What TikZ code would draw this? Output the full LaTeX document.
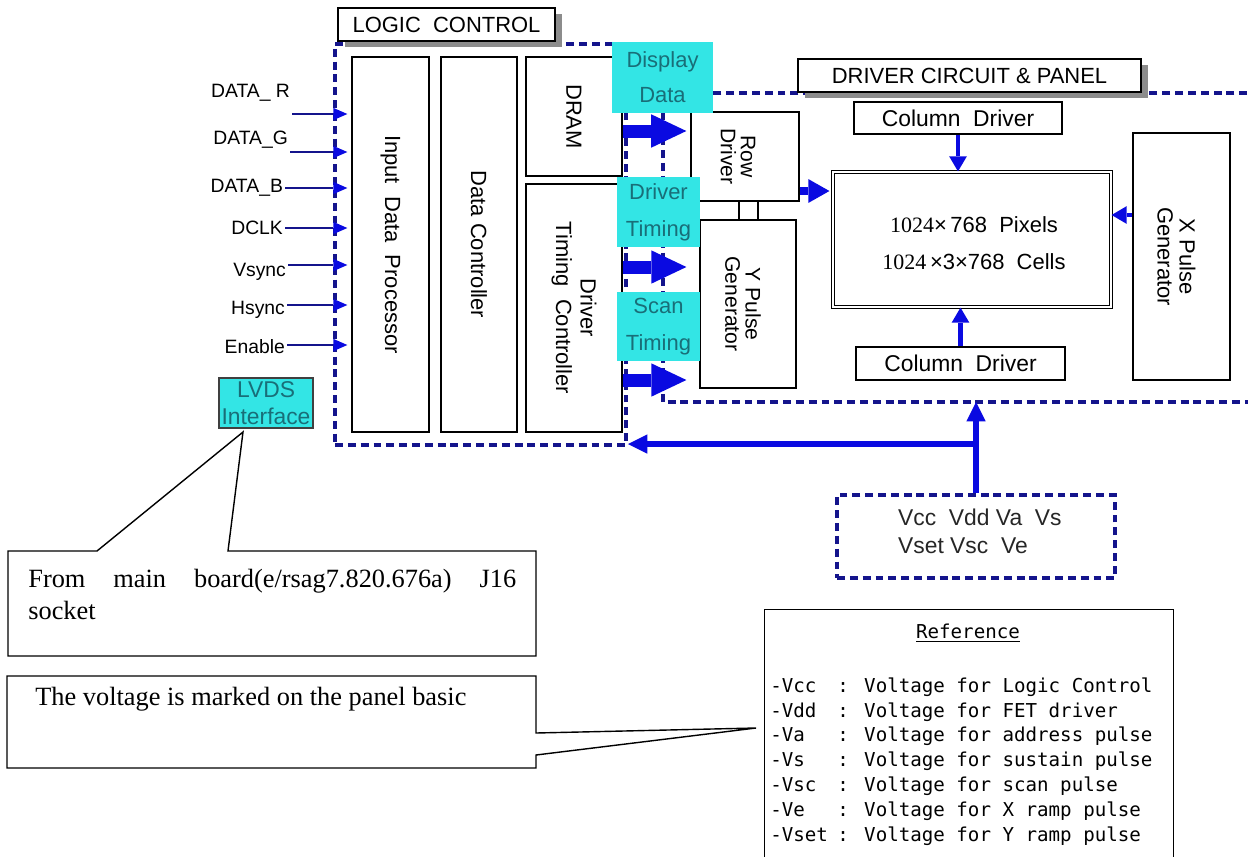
\documentclass[tikz,border=0pt]{standalone}
\usepackage{fontspec}
\setmainfont{Liberation Sans}
\newfontfamily\timesfont{Liberation Serif}
\newfontfamily\gulimfont{DejaVu Sans Mono}
\usetikzlibrary{arrows.meta, calc, shadows}

\definecolor{navy}{RGB}{20,20,140}
\definecolor{pblue}{RGB}{10,10,225}
\definecolor{lcyan}{RGB}{51,229,229}
\definecolor{tealtxt}{RGB}{25,110,120}

\tikzset{
  blk/.style={draw, fill=white, line width=0.7pt, inner sep=0pt, font=\fontsize{13}{15}\selectfont},
  vtext/.style={rotate=-90, align=center, inner sep=0pt, font=\fontsize{12.5}{12.5}\selectfont},
  titlebox/.style={draw, fill=white, line width=0.7pt, inner sep=0pt, font=\fontsize{12.5}{14}\selectfont,
    drop shadow={shadow xshift=4pt, shadow yshift=-3.4pt, fill=black!45, opacity=1}},
  cyanbox/.style={fill=lcyan, text=tealtxt, align=center, inner sep=0pt, font=\fontsize{12.5}{21}\selectfont},
  dashbox/.style={draw=navy, line width=2.3pt, dash pattern=on 4.5pt off 2.8pt, inner sep=0pt},
  dashline/.style={draw=navy, line width=2.3pt, dash pattern=on 4.5pt off 2.8pt},
  inlbl/.style={inner sep=1pt, font=\fontsize{11}{13}\selectfont},
  inarr/.style={draw=navy, line width=0.9pt, shorten >=2.3pt, -{Triangle[length=8pt, width=7pt, line width=0pt, color=pblue]}},
  fatarr/.style={draw=pblue, line width=7.4pt, -{Triangle[length=20pt, width=19pt, line width=0pt]}},
  midarr/.style={draw=pblue, line width=4pt, -{Triangle[length=12pt, width=13.6pt, line width=0pt]}},
  smallarr/.style={draw=pblue, line width=2.8pt, -{Triangle[length=8.5pt, width=10pt, line width=0pt]}},
  pwrarr/.style={draw=pblue, line width=3.4pt, -{Triangle[length=11pt, width=11pt, line width=0pt]}},
  callbox/.style={draw, fill=white, line width=0.8pt},
  calltxt/.style={inner sep=0pt, font=\timesfont\fontsize{15}{18}\selectfont},
  reftxt/.style={inner sep=0pt, font=\gulimfont\fontsize{10.9}{13}\selectfont}
}

\begin{document}
\begin{tikzpicture}[x=0.02cm, y=-0.02cm]
    %cornice
    \useasboundingbox (0,0) rectangle (1248,856);
    %disegno riquadro logic control
    \node[dashbox, minimum width=5.82cm, minimum height=8.02cm] (logic) at (480.5,244.5) {};
    %disegno riquadro driver circuit & panel
    \draw[dashline] (1260,93) -- (663,93) -- (663,402) -- (1260,402);
    \coordinate (drvbot) at (976,402);
    %disegno titoli
    \node[titlebox, minimum width=4.34cm, minimum height=0.66cm] (lctitle) at (446.5,24.5) {LOGIC\ \ CONTROL};
    \node[titlebox, minimum width=6.86cm, minimum height=0.66cm] (dctitle) at (969.5,75.5) {DRIVER CIRCUIT \& PANEL};

    %disegno blocchi logic control
    \node[blk, minimum width=1.54cm, minimum height=7.5cm] (idp) at (390.5,244.5) {};
    \node[vtext] (idptxt) at (idp) {Input\ \ Data\ \ Processor};
    \node[blk, minimum width=1.52cm, minimum height=7.5cm] (dc) at (479,244.5) {};
    \node[vtext] (dctxt) at (dc) {Data Controller};
    \node[blk, minimum width=1.92cm, minimum height=2.38cm] (dram) at (574,116.5) {};
    \node[vtext] (dramtxt) at (dram) {DRAM};
    \node[blk, minimum width=1.92cm, minimum height=4.96cm] (dtc) at (574,308) {};
    \node[vtext, font=\fontsize{12.5}{14}\selectfont] (dtctxt) at (dtc) {Driver\\Timing\ \ Controller};

    %disegno blocchi driver
    \node[blk, minimum width=2.16cm, minimum height=1.78cm] (rowdrv) at (745,156.5) {};
    \node[vtext, font=\fontsize{12}{11.5}\selectfont] (rowtxt) at ($(rowdrv)+(-7,0)$) {Row\\Driver};
    \node[blk, minimum width=1.92cm, minimum height=3.36cm] (ypg) at (748,304) {};
    \node[vtext, font=\fontsize{12}{11.5}\selectfont] (ypgtxt) at ($(ypg)+(-5,0)$) {Y Pulse\\Generator};
    \draw[line width=0.7pt] (rowdrv.south -| 739,0) -- (ypg.north -| 739,0);
    \draw[line width=0.7pt] (rowdrv.south -| 758,0) -- (ypg.north -| 758,0);
    \node[blk, minimum width=4.16cm, minimum height=0.64cm] (coltop) at (958,118) {Column\ \ Driver};
    \node[blk, double, double distance=1.2pt, minimum width=5.56cm, minimum height=2.7cm] (panel) at (972,239.5) {};
    \node[align=center, font=\fontsize{12.5}{21}\selectfont] (paneltxt) at ($(panel)+(2,4)$) {{\timesfont 1024}×\,768\ \ Pixels\\{\timesfont 1024}\,×3×768\ \ Cells};
    \node[blk, minimum width=4.18cm, minimum height=0.66cm] (colbot) at (960.5,363.5) {Column\ \ Driver};
    \node[blk, minimum width=1.94cm, minimum height=4.94cm] (xpg) at (1181.5,256.5) {};
    \node[vtext] (xpgtxt) at ($(xpg)+(-5,0)$) {X Pulse\\Generator};

    %disegno alimentazioni
    \node[dashbox, minimum width=5.56cm, minimum height=1.66cm] (vcc) at (976,536.5) {};
    \node[anchor=west, align=left, text=black!85, font=\fontsize{13}{16}\selectfont] (vcctxt) at (892,531) {Vcc\ \ Vdd Va\ \ Vs\\Vset Vsc\ \ Ve};

    %disegno frecce larghe
    \draw[fatarr, shorten >=2.3pt] (dram.east |- 0,131) -- (rowdrv.west |- 0,131);
    \draw[fatarr, shorten >=7.4pt] (dtc.east |- 0,267) -- (ypg.west |- 0,267);
    \draw[fatarr, shorten >=7.4pt] (dtc.east |- 0,380) -- (ypg.west |- 0,380);
    \draw[midarr, shorten >=1.7pt] (rowdrv.east |- 0,191) -- (panel.west |- 0,191);
    \draw[smallarr] (coltop.south) -- (coltop.south |- panel.north);
    \draw[smallarr] (colbot.north) -- (colbot.north |- panel.south);
    \draw[smallarr] (xpg.west |- 0,215) -- (panel.east |- 0,215);
    \draw[pwrarr] (vcc.north) -- (drvbot);
    \coordinate (vj) at (vcc.north |- 0,444);
    \draw[pwrarr] (vj) -- (logic.east |- vj);

    %disegno riquadri ciano
    \node[cyanbox, minimum width=2.02cm, minimum height=1.42cm, font=\fontsize{12.5}{20}\selectfont] (dispdata) at (662.5,77.5) {Display\\Data};
    \node[cyanbox, minimum width=1.66cm, minimum height=1.4cm] (drvtim) at (658.5,212) {Driver\\Timing};
    \node[cyanbox, minimum width=1.66cm, minimum height=1.38cm] (scantim) at (658.5,326.5) {Scan\\Timing};
    \node[cyanbox, draw=black!75, line width=0.8pt, minimum width=1.88cm, minimum height=1.0cm, font=\fontsize{13}{15.4}\selectfont] (lvds) at (266,403) {LVDS\\Interface};

    %disegno ingressi
    \node[inlbl, anchor=east] (inr) at (292,93) {DATA\_ R};
    \draw[inarr] (inr.east |- 0,114) -- (idp.west |- 0,114);
    \node[inlbl, anchor=east] (ing) at (290,140) {DATA\_G};
    \draw[inarr] (ing.east |- 0,152) -- (idp.west |- 0,152);
    \node[inlbl, anchor=east] (inb) at (285,188) {DATA\_B};
    \draw[inarr] (inb.east) -- (idp.west |- inb.east);
    \node[inlbl, anchor=east] (inclk) at (285,228) {DCLK};
    \draw[inarr] (inclk.east) -- (idp.west |- inclk.east);
    \node[inlbl, anchor=east] (invs) at (288,272) {Vsync};
    \draw[inarr] (invs.east |- 0,265) -- (idp.west |- 0,265);
    \node[inlbl, anchor=east] (inhs) at (287,310) {Hsync};
    \draw[inarr] (inhs.east |- 0,305) -- (idp.west |- 0,305);
    \node[inlbl, anchor=east] (inen) at (287,347) {Enable};
    \draw[inarr] (inen.east |- 0,345) -- (idp.west |- 0,345);

    %disegno fumetto lvds
    \coordinate (lvdstip) at (243,432);
    \draw[callbox] (8,551) -- (97,551) -- (lvdstip) -- (228,551) -- (536,551) -- (536,656) -- (8,656) -- cycle;
    \node[calltxt, anchor=north west, text width=9.76cm] (calltxt1) at (28,569) {\makebox[9.76cm]{From\hfill main\hfill board(e/rsag7.820.676a)\hfill J16}\\socket};

    %disegno fumetto tensioni
    \coordinate (reftip) at (756,728);
    \draw[callbox] (7,676) -- (536,676) -- (536,733) -- (reftip) -- (536,755) -- (536,768) -- (7,768) -- cycle;
    \node[calltxt, anchor=base west] (calltxt2) at (35,705) {The voltage is marked on the panel basic};

    %disegno riquadro reference
    \node[blk, minimum width=8.18cm, minimum height=5.1cm, anchor=north west] (refbox) at (764,609) {};
    \node[reftxt] (reftitle) at (968,633) {\underline{Reference}};
    \node[reftxt, anchor=west] (ref1) at (770,687) {\makebox[1.34cm][l]{-Vcc}: Voltage for Logic Control};
    \node[reftxt, anchor=west] (ref2) at (770,712) {\makebox[1.34cm][l]{-Vdd}: Voltage for FET driver};
    \node[reftxt, anchor=west] (ref3) at (770,736) {\makebox[1.34cm][l]{-Va}: Voltage for address pulse};
    \node[reftxt, anchor=west] (ref4) at (770,761) {\makebox[1.34cm][l]{-Vs}: Voltage for sustain pulse};
    \node[reftxt, anchor=west] (ref5) at (770,786) {\makebox[1.34cm][l]{-Vsc}: Voltage for scan pulse};
    \node[reftxt, anchor=west] (ref6) at (770,811) {\makebox[1.34cm][l]{-Ve}: Voltage for X ramp pulse};
    \node[reftxt, anchor=west] (ref7) at (770,836) {\makebox[1.34cm][l]{-Vset}: Voltage for Y ramp pulse};
\end{tikzpicture}
\end{document}
